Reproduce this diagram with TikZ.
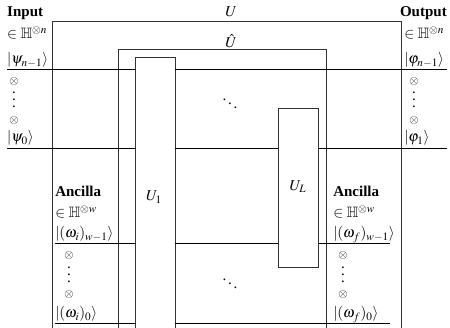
\documentclass[tikz,border=0pt]{standalone}
\usepackage{mathptmx}
\usepackage{amssymb}
\usepackage{fontspec}
\setmainfont{Liberation Serif}
\usetikzlibrary{fit}
\newcommand{\threedots}{\vbox{\baselineskip5.5pt\lineskiplimit0pt\hbox{.}\hbox{.}\hbox{.}}}
\begin{document}
\begin{tikzpicture}[x=0.8pt,y=-0.8pt,
  font=\fontsize{12}{14}\selectfont,
  wire/.style={draw=black, line width=0.6pt},
  gate/.style={draw=black!80, line width=0.6pt, inner sep=0pt},
  lab/.style={anchor=base west, inner sep=0pt},
  sym/.style={inner sep=0pt},
  tens/.style={inner sep=0pt, font=\fontsize{9.5}{10}\selectfont}]
\useasboundingbox (0,0) rectangle (450,328);
\clip (0,0) rectangle (450,328);
% boxes
\node[gate, fit={(52,21) (401,345)}] (U) {};
\node[gate, fit={(118,49) (326,345)}] (Uh) {};
\node[gate, fit={(135,57) (175,345)}] (U1) {};
\node[gate, fit={(278,108) (318,267)}] (UL) {};
\node[sym] (Ulab) at (231,12) {$U$};
\node[sym] (Uhlab) at (231,41) {$\hat{U}$};
\node[sym] (U1lab) at (154,197) {$U_1$};
\node[sym] (ULlab) at (298,187) {$U_L$};
% wire end points
\coordinate (a1) at (7,69);   \coordinate (a2) at (447,69);
\coordinate (b1) at (7,148);  \coordinate (b2) at (447,148);
\coordinate (c1) at (55,243); \coordinate (c2) at (390,243);
\coordinate (d1) at (55,323); \coordinate (d2) at (390,323);
% wires
\draw[wire] (a1) -- (a1 -| U1.west);
\draw[wire] (a1 -| U1.east) -- (a2);
\draw[wire] (b1) -- (b1 -| U1.west);
\draw[wire] (b1 -| U1.east) -- (b1 -| UL.west);
\draw[wire] (b1 -| UL.east) -- (b2);
\draw[wire] (c1) -- (c1 -| U1.west);
\draw[wire] (c1 -| U1.east) -- (c1 -| UL.west);
\draw[wire] (c1 -| UL.east) -- (c2);
\draw[wire] (d1) -- (d1 -| U1.west);
\draw[wire] (d1 -| U1.east) -- (d2);
% dots
\node[sym] (dd1) at (230,100) {$\ddots$};
\node[sym] (dd2) at (230,280) {$\ddots$};
% input labels
\node[lab] (inp) at (7,17) {\textbf{Input}};
\node[lab] (inH) at (7,39) {$\in \mathbb{H}^{\otimes n}$};
\node[lab] (psin) at (7,64) {$|\psi_{n-1}\rangle$};
\node[tens] (ot1) at (14,82) {$\otimes$};
\node[sym] (vd1) at (14,100) {\threedots};
\node[tens] (ot2) at (14,121) {$\otimes$};
\node[lab] (psi0) at (7,142) {$|\psi_{0}\rangle$};
% output labels
\node[anchor=base east, inner sep=0pt] (outp) at (447,17) {\textbf{Output}};
\node[lab] (outH) at (404,39) {$\in \mathbb{H}^{\otimes n}$};
\node[lab] (phin) at (404,64) {$|\varphi_{n-1}\rangle$};
\node[tens] (ot3) at (414,82) {$\otimes$};
\node[sym] (vd2) at (414,100) {\threedots};
\node[tens] (ot4) at (414,121) {$\otimes$};
\node[lab] (phi1) at (404,142) {$|\varphi_{1}\rangle$};
% ancilla in
\node[lab] (anc1) at (55,197) {\textbf{Ancilla}};
\node[lab] (ancH1) at (55,218) {$\in \mathbb{H}^{\otimes w}$};
\node[lab] (omi1) at (55,238) {$|(\omega_i)_{w-1}\rangle$};
\node[tens] (ot5) at (69,256) {$\otimes$};
\node[sym] (vd3) at (69,275) {\threedots};
\node[tens] (ot6) at (69,295) {$\otimes$};
\node[lab] (omi0) at (55,318) {$|(\omega_i)_{0}\rangle$};
% ancilla out
\node[lab] (anc2) at (333,197) {\textbf{Ancilla}};
\node[lab] (ancH2) at (333,218) {$\in \mathbb{H}^{\otimes w}$};
\node[lab] (omf1) at (333,238) {$|(\omega_f)_{w-1}\rangle$};
\node[tens] (ot7) at (343,256) {$\otimes$};
\node[sym] (vd4) at (343,275) {\threedots};
\node[tens] (ot8) at (343,295) {$\otimes$};
\node[lab] (omf0) at (333,318) {$|(\omega_f)_{0}\rangle$};
\end{tikzpicture}
\end{document}
